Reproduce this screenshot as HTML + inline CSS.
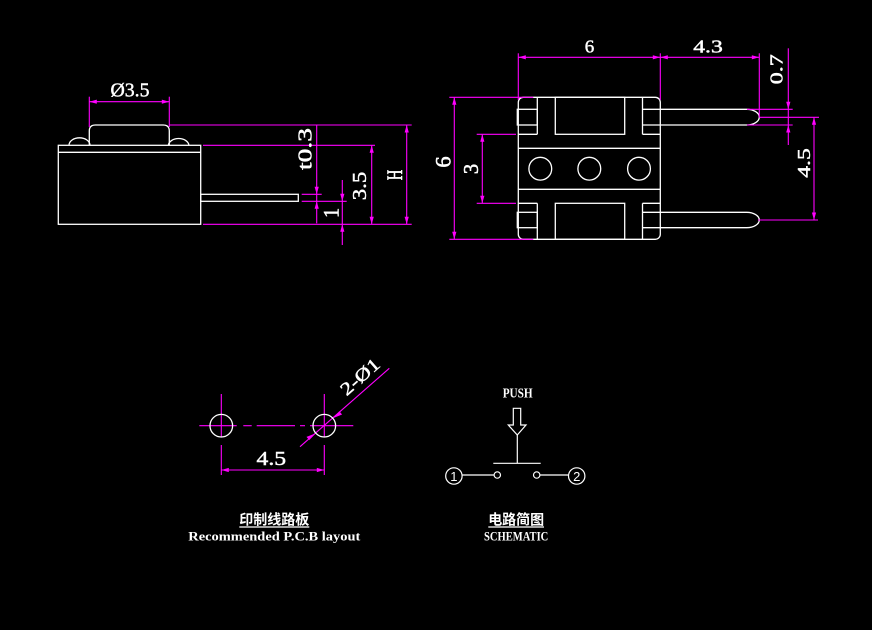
<!DOCTYPE html>
<html><head><meta charset="utf-8"><style>
html,body{margin:0;padding:0;background:#000;width:872px;height:630px;overflow:hidden}
svg{display:block}
.w{stroke:#fff;stroke-width:1.3;fill:none}
.m{stroke:#ff00ff;stroke-width:1.1;fill:none}
.a{fill:#ff00ff;stroke:none}
.t{fill:#fff;stroke:#fff;stroke-width:0.45;font-family:"Liberation Serif",serif;font-size:20px}
.t2{fill:#fff;stroke:#fff;stroke-width:0.45;font-family:"Liberation Serif",serif;font-size:18px}
.t3{fill:#fff;stroke:#fff;stroke-width:0.55;font-family:"Liberation Serif",serif;font-size:22.5px}
.s{fill:#fff;font-family:"Liberation Serif",serif;font-weight:bold;font-size:13px}
.c{fill:#fff;font-family:"Liberation Serif","Noto Sans CJK SC",sans-serif;font-weight:bold;font-size:14px}
</style></head><body>
<svg width="872" height="630" viewBox="0 0 872 630" xmlns="http://www.w3.org/2000/svg">
<rect width="872" height="630" fill="#000"/>

<!-- ============ LEFT VIEW ============ -->
<g class="w">
  <rect x="58.3" y="145.3" width="142.4" height="79"/>
  <line x1="58.3" y1="152.3" x2="200.7" y2="152.3"/>
  <path d="M89.3,145.3 V131 Q89.3,125 95.3,125 H163.3 Q169.3,125 169.3,131 V145.3"/>
  <path d="M69,145.3 A10.5,7.5 0 0 1 90,145.3"/>
  <path d="M168.3,145.3 A10.4,7.5 0 0 1 189,145.3"/>
  <rect x="200.7" y="194.3" width="97.6" height="7"/>
</g>
<g class="m">
  <line x1="89.3" y1="96.7" x2="89.3" y2="127"/>
  <line x1="169.3" y1="96.7" x2="169.3" y2="127"/>
  <line x1="89.3" y1="101.7" x2="169.3" y2="101.7"/>
  <line x1="169.3" y1="125" x2="411.7" y2="125"/>
  <line x1="203" y1="145.3" x2="375" y2="145.3"/>
  <line x1="203" y1="224.3" x2="411.7" y2="224.3"/>
  <line x1="301.7" y1="194.3" x2="321.7" y2="194.3"/>
  <line x1="301.7" y1="201.3" x2="346.7" y2="201.3"/>
  <line x1="316.7" y1="125" x2="316.7" y2="223.3"/>
  <line x1="342.3" y1="180" x2="342.3" y2="245"/>
  <line x1="371.7" y1="145.3" x2="371.7" y2="224.3"/>
  <line x1="406.7" y1="125" x2="406.7" y2="224.3"/>
</g>
<g class="a">
  <polygon points="89.3,101.7 96.8,99.6 96.8,103.8"/>
  <polygon points="169.3,101.7 161.8,99.6 161.8,103.8"/>
  <polygon points="316.7,194.3 314.6,186.8 318.8,186.8"/>
  <polygon points="316.7,201.3 314.6,208.8 318.8,208.8"/>
  <polygon points="342.3,201.3 340.2,193.8 344.4,193.8"/>
  <polygon points="342.3,224.3 340.2,231.8 344.4,231.8"/>
  <polygon points="371.7,145.3 369.6,152.8 373.8,152.8"/>
  <polygon points="371.7,224.3 369.6,216.8 373.8,216.8"/>
  <polygon points="406.7,125 404.6,132.5 408.8,132.5"/>
  <polygon points="406.7,224.3 404.6,216.8 408.8,216.8"/>
</g>
<text class="t" x="130" y="96.7" text-anchor="middle" textLength="39" lengthAdjust="spacingAndGlyphs">Ø3.5</text>
<text class="t" transform="translate(311.7,149) rotate(-90)" text-anchor="middle" textLength="42" lengthAdjust="spacingAndGlyphs">t0.3</text>
<text class="t3" transform="translate(338.5,213) rotate(-90) scale(0.9,1)" text-anchor="middle">1</text>
<text class="t" transform="translate(366,186) rotate(-90)" text-anchor="middle" textLength="28.5" lengthAdjust="spacingAndGlyphs">3.5</text>
<text class="t3" transform="translate(402,175) rotate(-90) scale(0.65,1)" text-anchor="middle">H</text>

<!-- ============ RIGHT VIEW ============ -->
<g class="w">
  <path d="M523.3,97.3 H655.3 A5,5 0 0 1 660.3,102.3 V234.3 A5,5 0 0 1 655.3,239.3 H523.3 A5,5 0 0 1 518.3,234.3 V102.3 A5,5 0 0 1 523.3,97.3 Z"/>
  <line x1="537.3" y1="97.3" x2="537.3" y2="134.3"/>
  <line x1="518.3" y1="134.3" x2="537.3" y2="134.3"/>
  <rect x="555.3" y="97.3" width="69.4" height="37"/>
  <line x1="642.5" y1="97.3" x2="642.5" y2="134.3"/>
  <line x1="642.5" y1="134.3" x2="660.3" y2="134.3"/>
  <rect x="517.3" y="109.3" width="20" height="15.7"/>
  <line x1="518.3" y1="148.3" x2="660.3" y2="148.3"/>
  <line x1="518.3" y1="189.3" x2="660.3" y2="189.3"/>
  <circle cx="540.3" cy="168.7" r="11.4"/>
  <circle cx="589.3" cy="168.7" r="11.4"/>
  <circle cx="639" cy="168.7" r="11.4"/>
  <line x1="537.3" y1="203.3" x2="537.3" y2="239.3"/>
  <line x1="518.3" y1="203.3" x2="537.3" y2="203.3"/>
  <rect x="555.3" y="203.3" width="69.4" height="36"/>
  <line x1="642.5" y1="203.3" x2="642.5" y2="239.3"/>
  <line x1="642.5" y1="203.3" x2="660.3" y2="203.3"/>
  <rect x="517.3" y="212.3" width="20" height="15.4"/>
  <path d="M642.5,109.3 H746.7 A12.6,7.85 0 0 1 746.7,125 H642.5"/>
  <path d="M642.5,212.3 H746.7 A12.6,7.7 0 0 1 746.7,227.7 H642.5"/>
</g>
<g class="m">
  <line x1="518.3" y1="53.3" x2="518.3" y2="100"/>
  <line x1="660.3" y1="53.3" x2="660.3" y2="100"/>
  <line x1="759.3" y1="53.3" x2="759.3" y2="117.3"/>
  <line x1="518.3" y1="57.3" x2="759.3" y2="57.3"/>
  <line x1="449.3" y1="97.3" x2="533.3" y2="97.3"/>
  <line x1="449.3" y1="239.3" x2="533.3" y2="239.3"/>
  <line x1="454.3" y1="97.3" x2="454.3" y2="239.3"/>
  <line x1="476.7" y1="134.3" x2="516" y2="134.3"/>
  <line x1="476.7" y1="203.3" x2="516" y2="203.3"/>
  <line x1="482.3" y1="134.3" x2="482.3" y2="203.3"/>
  <line x1="747" y1="109.3" x2="792.7" y2="109.3"/>
  <line x1="747" y1="125" x2="792.7" y2="125"/>
  <line x1="788.3" y1="48.3" x2="788.3" y2="145"/>
  <line x1="759.3" y1="117.3" x2="819" y2="117.3"/>
  <line x1="758" y1="220" x2="818" y2="220"/>
  <line x1="814" y1="117.3" x2="814" y2="220"/>
</g>
<g class="a">
  <polygon points="518.3,57.3 525.8,55.2 525.8,59.4"/>
  <polygon points="660.3,57.3 652.8,55.2 652.8,59.4"/>
  <polygon points="660.3,57.3 667.8,55.2 667.8,59.4"/>
  <polygon points="759.3,57.3 751.8,55.2 751.8,59.4"/>
  <polygon points="454.3,97.3 452.2,104.8 456.4,104.8"/>
  <polygon points="454.3,239.3 452.2,231.8 456.4,231.8"/>
  <polygon points="482.3,134.3 480.2,141.8 484.4,141.8"/>
  <polygon points="482.3,203.3 480.2,195.8 484.4,195.8"/>
  <polygon points="788.3,109.3 786.2,101.8 790.4,101.8"/>
  <polygon points="788.3,125 786.2,132.5 790.4,132.5"/>
  <polygon points="814,117.3 811.9,124.8 816.1,124.8"/>
  <polygon points="814,220 811.9,212.5 816.1,212.5"/>
</g>
<text class="t2" x="589.5" y="52.5" text-anchor="middle" textLength="9.5" lengthAdjust="spacingAndGlyphs">6</text>
<text class="t2" x="708" y="52.5" text-anchor="middle" textLength="29.5" lengthAdjust="spacingAndGlyphs">4.3</text>
<text class="t2" transform="translate(782.7,69.3) rotate(-90)" text-anchor="middle" textLength="30" lengthAdjust="spacingAndGlyphs">0.7</text>
<text class="t2" transform="translate(810,163) rotate(-90)" text-anchor="middle" textLength="29.5" lengthAdjust="spacingAndGlyphs">4.5</text>
<text class="t3" transform="translate(450.5,162) rotate(-90) scale(1.0,1)" text-anchor="middle">6</text>
<text class="t3" transform="translate(478,169) rotate(-90) scale(0.92,0.96)" text-anchor="middle">3</text>

<!-- ============ PCB LAYOUT ============ -->
<g class="m">
  <line x1="199.3" y1="425.7" x2="236.7" y2="425.7"/>
  <line x1="243.3" y1="425.7" x2="251.7" y2="425.7"/>
  <line x1="256.7" y1="425.7" x2="295" y2="425.7"/>
  <line x1="300" y1="425.7" x2="305" y2="425.7"/>
  <line x1="310" y1="425.7" x2="353.3" y2="425.7"/>
  <line x1="221.3" y1="394" x2="221.3" y2="436.7"/>
  <line x1="221.3" y1="445" x2="221.3" y2="475"/>
  <line x1="324.3" y1="394" x2="324.3" y2="436.7"/>
  <line x1="324.3" y1="445" x2="324.3" y2="475"/>
  <line x1="221.3" y1="470" x2="324.3" y2="470"/>
  <line x1="300" y1="446.7" x2="389.3" y2="368.3"/>
</g>
<g class="w">
  <circle cx="221.3" cy="425.7" r="11.3"/>
  <circle cx="324.3" cy="425.7" r="11.3"/>
</g>
<g class="a">
  <polygon points="221.3,470 228.8,467.9 228.8,472.1"/>
  <polygon points="324.3,470 316.8,467.9 316.8,472.1"/>
  <polygon points="332.8,418.2 339.4,411.3 342.1,414.5"/>
  <polygon points="315.8,433.2 309.2,440.1 306.5,436.9"/>
</g>
<text class="t" x="271.3" y="465" text-anchor="middle" textLength="29.5" lengthAdjust="spacingAndGlyphs">4.5</text>
<text class="t2" transform="translate(360,376.7) rotate(-41.3)" x="0" y="6" text-anchor="middle" textLength="46" lengthAdjust="spacingAndGlyphs">2-Ø1</text>

<!-- ============ SCHEMATIC ============ -->
<text class="s" x="502.7" y="397.7" textLength="30" lengthAdjust="spacingAndGlyphs" style="font-size:14px">PUSH</text>
<g class="w" style="stroke-width:1.2">
  <polygon points="513.3,408.3 520.7,408.3 520.7,425 526,425 517.3,435 508.3,425 513.3,425"/>
  <line x1="517.3" y1="435" x2="517.3" y2="463.3"/>
  <line x1="493.3" y1="463.3" x2="540.7" y2="463.3"/>
  <circle cx="497.3" cy="475" r="3.2"/>
  <circle cx="536.7" cy="475" r="3.2"/>
  <line x1="462.3" y1="475" x2="494" y2="475"/>
  <line x1="540" y1="475" x2="568.3" y2="475"/>
  <circle cx="453.9" cy="476" r="8.2"/>
  <circle cx="576.7" cy="476" r="8.2"/>
</g>
<text x="453.9" y="481" text-anchor="middle" style="fill:#fff;font-family:'Liberation Sans',sans-serif;font-size:13px">1</text>
<text x="576.7" y="481" text-anchor="middle" style="fill:#fff;font-family:'Liberation Sans',sans-serif;font-size:13px">2</text>

<!-- ============ CAPTIONS ============ -->
<text class="c" x="274.3" y="524.5" text-anchor="middle" textLength="70" lengthAdjust="spacingAndGlyphs">印制线路板</text>
<line x1="239.3" y1="527" x2="309.3" y2="527" stroke="#fff" stroke-width="1.2"/>
<text class="s" x="188.3" y="540.7" textLength="172" lengthAdjust="spacingAndGlyphs">Recommended P.C.B layout</text>
<text class="c" x="516.2" y="524.5" text-anchor="middle" textLength="56" lengthAdjust="spacingAndGlyphs">电路简图</text>
<line x1="488.3" y1="527" x2="544" y2="527" stroke="#fff" stroke-width="1.2"/>
<text class="s" x="484" y="540.7" textLength="64.3" lengthAdjust="spacingAndGlyphs">SCHEMATIC</text>
</svg>
</body></html>
